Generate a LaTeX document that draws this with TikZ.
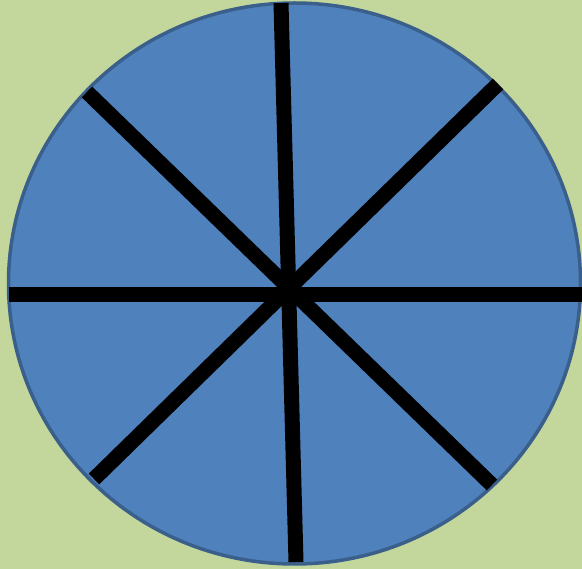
\documentclass[tikz,border=0pt]{standalone}
\usetikzlibrary{calc}
\definecolor{leaf}{HTML}{C3D69B}
\definecolor{disc}{HTML}{4F81BD}
\definecolor{rim}{HTML}{3A5F8B}
\tikzset{
  wheel/.style={fill=disc,draw=rim,line width=3.5pt},
  spoke/.style={draw=black,line width=15pt,line cap=butt},
}
\begin{document}
\begin{tikzpicture}[x=1pt,y=-1pt]
\fill[leaf] (0,0) rectangle (582,569);
\useasboundingbox (0,0) rectangle (582,569);
% disc
\draw[wheel] (294.5,283.5) ellipse [x radius=286, y radius=280.5];
% spoke ends
\coordinate (n) at (281,3);
\coordinate (s) at (296,562);
\coordinate (w) at (9,295);
\coordinate (e) at (584,295);
\coordinate (nw) at (87,92);
\coordinate (se) at (492,485);
\coordinate (ne) at (498,84);
\coordinate (sw) at (94,479);
\draw[spoke] (n) -- (s);
\draw[spoke] (w) -- (e);
\draw[spoke] (nw) -- (se);
\draw[spoke] (ne) -- (sw);
\end{tikzpicture}
\end{document}
